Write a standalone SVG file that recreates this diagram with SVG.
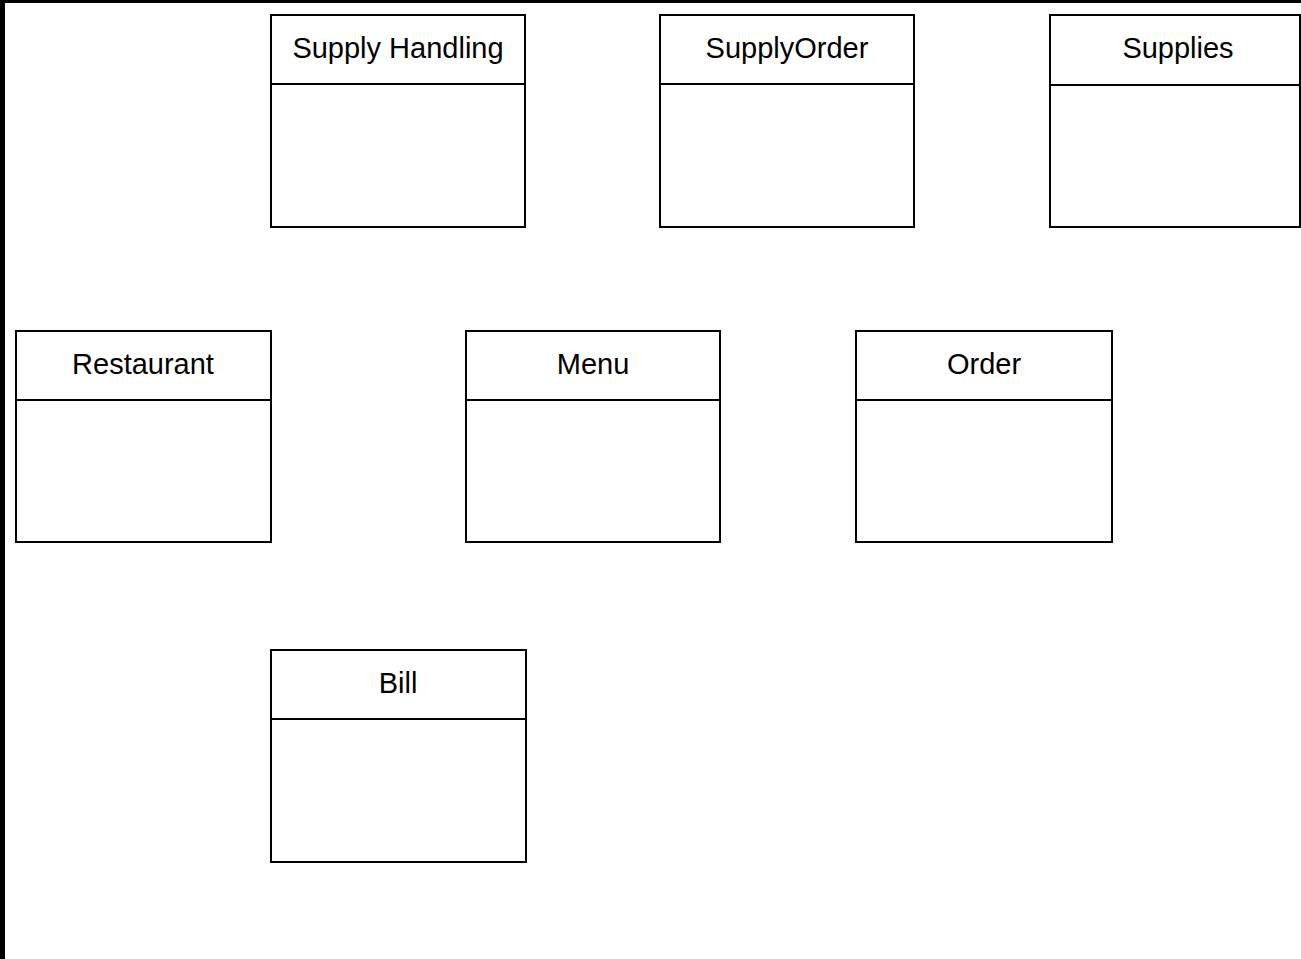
<svg xmlns="http://www.w3.org/2000/svg" width="1301" height="959" viewBox="0 0 1301 959">
<style>
.box{fill:#fff;stroke:#000;stroke-width:2}
.div{stroke:#000;stroke-width:2}
.lbl{font-family:"Liberation Sans",Arial,sans-serif;font-size:29px;fill:#000;text-anchor:middle}
</style>
<rect x="0" y="0" width="1301" height="959" fill="#fff"/>
<rect x="0" y="0" width="1301" height="3" fill="#000"/>
<rect x="0" y="0" width="5" height="959" fill="#000"/>
<g id="supply-handling">
<rect class="box" x="271" y="15" width="254" height="212"/>
<line class="div" x1="271" y1="84" x2="525" y2="84"/>
<text class="lbl" x="398" y="58">Supply Handling</text>
</g>
<g id="supply-order">
<rect class="box" x="660" y="15" width="254" height="212"/>
<line class="div" x1="660" y1="84" x2="914" y2="84"/>
<text class="lbl" x="787" y="58">SupplyOrder</text>
</g>
<g id="supplies">
<rect class="box" x="1050" y="15" width="250" height="212"/>
<line class="div" x1="1050" y1="85" x2="1300" y2="85"/>
<text class="lbl" x="1178" y="58">Supplies</text>
</g>
<g id="restaurant">
<rect class="box" x="16" y="331" width="255" height="211"/>
<line class="div" x1="16" y1="400" x2="271" y2="400"/>
<text class="lbl" x="143" y="374">Restaurant</text>
</g>
<g id="menu">
<rect class="box" x="466" y="331" width="254" height="211"/>
<line class="div" x1="466" y1="400" x2="720" y2="400"/>
<text class="lbl" x="593" y="374">Menu</text>
</g>
<g id="order">
<rect class="box" x="856" y="331" width="256" height="211"/>
<line class="div" x1="856" y1="400" x2="1112" y2="400"/>
<text class="lbl" x="984" y="374">Order</text>
</g>
<g id="bill">
<rect class="box" x="271" y="650" width="255" height="212"/>
<line class="div" x1="271" y1="719" x2="526" y2="719"/>
<text class="lbl" x="398" y="693">Bill</text>
</g>
<g id="connectors"></g>
</svg>
